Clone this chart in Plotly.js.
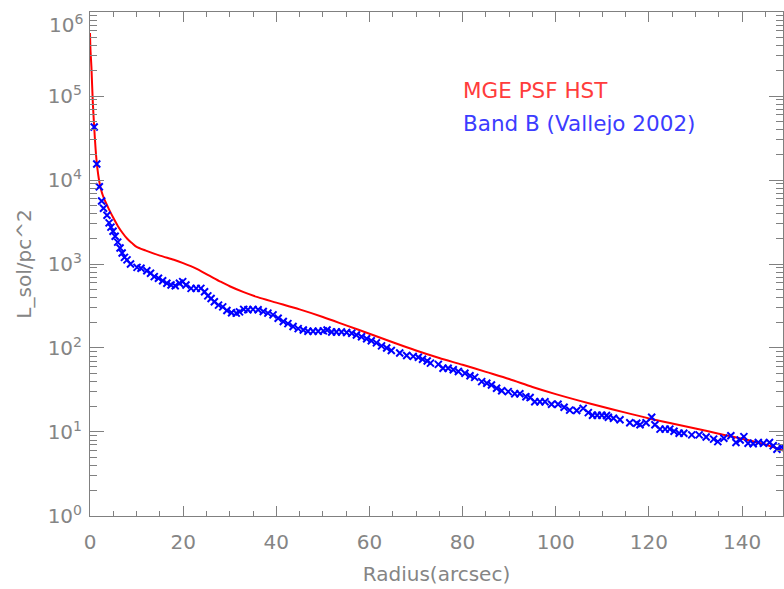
<!DOCTYPE html>
<html>
<head>
<meta charset="utf-8">
<script src="https://cdn.plot.ly/plotly-3.0.1.min.js"></script>
<style>
  html, body { margin: 0; padding: 0; background: #ffffff; }
  #chart { width: 784px; height: 589px; }
</style>
</head>
<body>
<div id="chart"></div>
<script>
// MGE model (PSF-convolved, HST) surface brightness profile
const modelRadius = [0, 0.1, 0.3, 0.6, 0.9, 1.2, 1.5, 2.0, 2.5, 3, 4, 5, 6, 7, 8, 9, 10, 12, 15, 18,
  20, 22, 24, 26, 28, 30, 33, 36, 40, 45, 50, 55, 60, 65, 70, 75, 80, 85, 90, 95, 100,
  105, 110, 115, 120, 125, 130, 135, 140, 145, 149];
const modelLum = [562000, 355000, 224000, 85100, 42700, 23400, 15100, 9550, 7240, 6030, 4570, 3550, 2820, 2340, 1995, 1778, 1600, 1445, 1259, 1122,
  1023, 923, 813, 708, 617, 543, 462, 403, 347, 288, 234, 186, 148, 117, 93.3, 75.9, 63.1, 51.9, 42.7, 34.3, 28.2,
  23.6, 20.0, 17.0, 14.5, 12.6, 11.0, 9.55, 8.32, 7.08, 5.96];

// Observed B-band profile (Vallejo 2002)
const bandRadius = [0.9, 1.45, 2.0, 2.5, 2.9, 3.65, 4.1, 4.5, 4.95, 5.4, 5.95, 6.45, 6.9, 7.4, 7.95, 8.7,
  10.1, 10.95, 12.2, 13.0, 13.8, 14.7, 15.6, 16.5, 17.4, 18.3, 19.2, 19.9, 20.6, 21.7, 22.8, 23.8,
  24.6, 25.3, 26.0, 26.7, 27.6, 28.5, 29.4, 30.4, 31.4, 32.1, 33.0, 33.9, 35.0, 36.1, 37.2, 38.2,
  39.3, 40.4, 41.5, 42.5, 43.6, 44.7, 45.8, 46.8, 47.9, 49.0, 50.1, 50.9, 51.9, 52.9, 54.0, 55.1,
  56.2, 57.2, 58.3, 59.4, 60.4, 61.5, 62.6, 63.7, 64.7, 66.5, 68.0, 69.4, 70.5, 71.4, 72.4, 73.1,
  74.8, 75.8, 76.9, 78.0, 79.1, 80.5, 81.6, 82.6, 84.1, 85.2, 86.2, 87.3, 88.4, 89.8, 91.2, 92.3,
  93.6, 94.5, 95.5, 96.6, 97.7, 99.1, 100.5, 101.8, 103.0, 104.5, 105.9, 107.0, 107.9, 108.9, 109.9, 110.9,
  111.3, 112.4, 113.8, 115.9, 117.4, 118.1, 119.4, 120.6, 121.3, 122.4, 123.5, 124.5, 125.4, 126.5, 127.5, 129.2,
  130.8, 132.3, 133.9, 134.8, 136.1, 137.6, 138.7, 139.6, 140.4, 141.3, 142.4, 143.5, 144.6, 145.9, 146.7, 147.5, 148.5];
const bandLum = [42700, 15500, 8320, 5620, 4620, 3800, 3090, 2750, 2450, 2140, 1820, 1550, 1350, 1200, 1120, 1000,
  912, 891, 832, 776, 708, 676, 631, 589, 562, 550, 589, 617, 562, 513, 513, 513,
  468, 417, 389, 355, 324, 309, 279, 263, 260, 269, 288, 285, 288, 285, 272, 260,
  248, 226, 207, 195, 180, 170, 164, 158, 158, 158, 160, 164, 155, 155, 155, 153,
  150, 143, 136, 129, 122, 115, 106, 100, 93.3, 87.1, 81.3, 79.4, 77.6, 73.3, 70.0, 66.1,
  63.8, 57.5, 57.5, 55.0, 52.5, 50.1, 46.8, 44.7, 39.8, 38.0, 36.3, 33.1, 30.9, 30.2, 28.5, 28.5,
  26.3, 25.7, 22.9, 22.9, 22.9, 21.4, 21.4, 19.7, 18.2, 18.0, 19.1, 17.0, 15.8, 15.8, 15.8, 15.7,
  15.0, 14.6, 14.0, 12.9, 12.7, 12.2, 12.9, 15.0, 12.2, 10.8, 10.8, 10.8, 10.2, 9.66, 9.66, 9.23,
  9.23, 8.71, 8.22, 7.67, 8.41, 9.02, 7.50, 8.04, 8.81, 7.33, 7.24, 7.50, 7.33, 7.50, 6.84, 6.24, 6.61];

// Axis ticks
const xTickVals = [0, 20, 40, 60, 80, 100, 120, 140];
const yTickVals = [1, 10, 100, 1000, 10000, 100000, 1000000];
const yTickText = ['10<sup>0</sup>', '10<sup>1</sup>', '10<sup>2</sup>', '10<sup>3</sup>',
  '10<sup>4</sup>', '10<sup>5</sup>', '10<sup>6</sup>'];

const legendLabels = ['MGE PSF HST', 'Band B (Vallejo 2002)'];

// minor tick positions 2..9 within each decade
const yMinor = [];
for (let d = 0; d < 6; d++) {
  for (let k = 2; k <= 9; k++) yMinor.push(k * Math.pow(10, d));
}

// the top decade label sits just below the frame edge, so it is drawn as an annotation
const topIdx = yTickText.length - 1;
const axisTickText = yTickText.map((t, i) => (i === topIdx ? '' : t));

const axisGray = '#808080';
const textFont = { family: 'DejaVu Sans, sans-serif', size: 20, color: '#858585' };

const traces = [
  {
    x: modelRadius, y: modelLum, type: 'scatter', mode: 'lines',
    line: { color: '#ff0000', width: 2, shape: 'spline', smoothing: 0.8 },
    name: legendLabels[0], hoverinfo: 'skip'
  },
  {
    x: bandRadius, y: bandLum, type: 'scatter', mode: 'markers',
    marker: { symbol: 'x-thin-open', size: 7, color: '#0000ff', line: { color: '#0000ff', width: 2 } },
    name: legendLabels[1], hoverinfo: 'skip'
  }
];

const layout = {
  width: 784, height: 589,
  margin: { l: 90, r: 1, t: 12, b: 73 },
  paper_bgcolor: '#ffffff', plot_bgcolor: '#ffffff',
  showlegend: false,
  font: textFont,
  xaxis: {
    range: [0, 148.8], showgrid: false, zeroline: false,
    showline: true, linecolor: axisGray, linewidth: 1, mirror: 'allticks',
    ticks: 'inside', ticklen: 10, tickcolor: axisGray, tickwidth: 1,
    tickmode: 'array', tickvals: xTickVals,
    tickfont: textFont, ticklabelstandoff: 8,
    minor: { dtick: 5, tick0: 0, ticks: 'inside', ticklen: 5, tickcolor: axisGray, tickwidth: 1, showgrid: false },
    title: { text: 'Radius(arcsec)', font: textFont, standoff: 13 }
  },
  yaxis: {
    type: 'log', range: [-0.0005, 6.0005], showgrid: false, zeroline: false,
    showline: true, linecolor: axisGray, linewidth: 1, mirror: 'allticks',
    ticks: 'inside', ticklen: 14, tickcolor: axisGray, tickwidth: 1,
    tickmode: 'array', tickvals: yTickVals, ticktext: axisTickText,
    tickfont: textFont, ticklabelstandoff: 3,
    minor: { tickmode: 'array', tickvals: yMinor, ticks: 'inside', ticklen: 7, tickcolor: axisGray, tickwidth: 1, showgrid: false },
    title: { text: 'L_sol/pc^2', font: textFont, standoff: 10 }
  },
  annotations: [
    { xref: 'paper', yref: 'paper', x: 0, y: 1, xanchor: 'right', yanchor: 'top',
      xshift: -5, yshift: 3, text: yTickText[topIdx], showarrow: false, font: textFont },
    { xref: 'paper', yref: 'paper', x: 0.535, y: 0.845, xanchor: 'left', yanchor: 'middle',
      text: legendLabels[0], showarrow: false, font: { family: textFont.family, size: 21.5, color: '#ff3c3c' } },
    { xref: 'paper', yref: 'paper', x: 0.535, y: 0.778, xanchor: 'left', yanchor: 'middle',
      text: legendLabels[1], showarrow: false, font: { family: textFont.family, size: 21.5, color: '#3c3cff' } }
  ]
};

Plotly.newPlot('chart', traces, layout, { displayModeBar: false, staticPlot: true });
</script>
</body>
</html>
